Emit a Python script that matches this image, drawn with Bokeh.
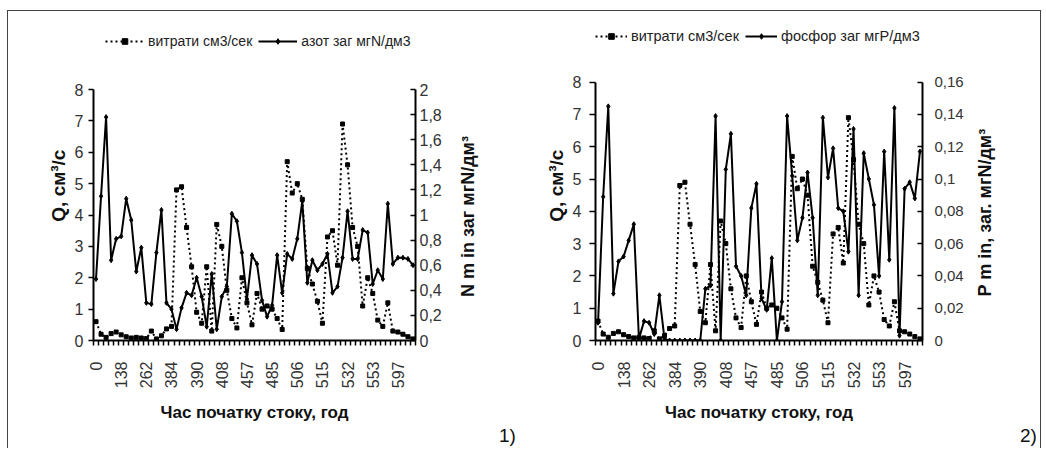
import math
from bokeh.plotting import figure
from bokeh.models import (Range1d, LinearAxis, FixedTicker, Label, Row,
                          CustomJSTickFormatter, Legend)
from bokeh.embed import file_html
from bokeh.resources import INLINE

# ---- data ----
tick_labels = ["0", "138", "262", "384", "390", "408", "457", "485",
               "506", "515", "532", "553", "597"]

flow_q = [0.6, 0.2, 0.1, 0.22, 0.27, 0.18, 0.12, 0.08, 0.1, 0.08,
          0.06, 0.3, 0.05, 0.15, 0.37, 0.45, 4.8, 4.9, 3.6, 2.35,
          0.9, 0.55, 2.35, 0.3, 3.7, 3.0, 1.6, 0.7, 0.4, 2.0,
          1.2, 0.5, 1.5, 1.0, 1.1, 1.0, 0.7, 0.35, 5.7, 4.7,
          5.0, 4.5, 2.3, 1.8, 1.25, 0.55, 3.3, 3.5, 2.4, 6.9,
          5.6, 3.6, 3.0, 1.1, 2.0, 1.5, 0.65, 0.45, 1.2, 0.3,
          0.27, 0.2, 0.12, 0.05]

nitrogen = [0.49, 1.15, 1.78, 0.64, 0.81, 0.83, 1.13, 0.96, 0.55, 0.74,
            0.30, 0.29, 0.70, 1.04, 0.30, 0.25, 0.09, 0.26, 0.38, 0.36,
            0.50, 0.35, 0.11, 0.53, 0.09, 0.35, 0.43, 1.01, 0.95, 0.70,
            0.33, 0.68, 0.61, 0.32, 0.19, 0.28, 0.68, 0.38, 0.69, 0.65,
            0.81, 1.11, 0.46, 0.64, 0.56, 0.61, 0.69, 0.38, 0.43, 0.66,
            1.03, 0.65, 0.65, 0.88, 0.86, 0.45, 0.56, 0.49, 1.09, 0.61,
            0.66, 0.66, 0.65, 0.60]

phosphorus = [0.011, 0.089, 0.145, 0.029, 0.049, 0.052, 0.062, 0.072, 0.001, 0.012,
              0.011, 0.004, 0.028, 0.001, 0.0, 0.0, 0.0, 0.0, 0.0, 0.0,
              0.0, 0.032, 0.034, 0.139, 0.0, 0.106, 0.128, 0.046, 0.040, 0.028,
              0.082, 0.097, 0.026, 0.019, 0.051, 0.0, 0.024, 0.139, 0.102, 0.062,
              0.076, 0.104, 0.076, 0.028, 0.138, 0.101, 0.119, 0.082, 0.080, 0.055,
              0.131, 0.028, 0.116, 0.100, 0.084, 0.040, 0.117, 0.050, 0.144, 0.003,
              0.094, 0.098, 0.088, 0.117]

x = list(range(len(flow_q)))

REG = "Liberation Sans"
TXT = "#333333"
DARK = "#111111"
BORDER = "1px solid #444444"
H = 438


def chart(width, left, right, top, bottom, plot_h, labels, right_vals, right_max,
          right_step, right_digits, legend_fs, legend_xy, glyph_w,
          ytick_std, ytick_out, ltitle_std, rtick_std, rfs, styles):
    frame_h = H - top - bottom
    stretch = frame_h / plot_h          # frame also holds the legend strip on top
    p = figure(width=width, height=H, x_range=Range1d(-0.5, len(x) - 0.5),
               y_range=Range1d(0, 8 * stretch), output_backend="svg",
               toolbar_location=None,
               min_border_left=left, min_border_right=right,
               min_border_top=top, min_border_bottom=bottom, styles=styles)
    p.extra_y_ranges = {"r": Range1d(0, right_max * stretch)}
    p.outline_line_color = None
    p.xgrid.visible = False
    p.ygrid.visible = False

    q_line = p.line(x, flow_q, line_dash="2 3", line_width=2, color="black")
    q_pts = p.scatter(x, flow_q, marker="square", size=4, color="black")
    r_line = p.line(x, right_vals, y_range_name="r", line_width=2, color="black")
    r_pts = p.scatter(x, right_vals, y_range_name="r", marker="diamond", size=5,
                      color="black")

    # bottom axis
    xa = p.xaxis[0]
    xa.ticker = FixedTicker(ticks=[5 * k for k in range(len(tick_labels))],
                            minor_ticks=[k - 0.5 for k in range(len(x) + 1)])
    xa.major_label_overrides = {5 * k: t for k, t in enumerate(tick_labels)}
    xa.major_label_orientation = math.pi / 2
    xa.major_tick_out = 0
    xa.major_tick_in = 0
    xa.minor_tick_out = 5
    xa.minor_tick_in = 0
    xa.minor_tick_line_width = 1.5
    xa.axis_line_width = 2
    xa.major_label_standoff = 16
    xa.major_label_text_font = REG
    xa.major_label_text_font_size = "16px"
    xa.major_label_text_color = TXT
    xa.axis_label = "Час початку стоку, год"
    xa.axis_label_text_font = REG
    xa.axis_label_text_font_style = "bold"
    xa.axis_label_text_font_size = "17px"
    xa.axis_label_text_color = DARK
    xa.axis_label_standoff = 12

    # left axis
    ya = p.yaxis[0]
    ya.ticker = FixedTicker(ticks=list(range(9)))
    ya.bounds = (0, 8)
    ya.major_tick_out = ytick_out
    ya.major_tick_in = 0
    ya.minor_tick_out = 0
    ya.minor_tick_in = 0
    ya.major_tick_line_width = 1.5
    ya.axis_line_width = 2
    ya.major_label_standoff = ytick_std
    ya.major_label_text_font = REG
    ya.major_label_text_font_size = "16px"
    ya.major_label_text_color = TXT
    ya.axis_label = "Q,  см³/с"
    ya.axis_label_text_font = REG
    ya.axis_label_text_font_style = "bold"
    ya.axis_label_text_font_size = "19px"
    ya.axis_label_text_color = DARK
    ya.axis_label_standoff = ltitle_std

    # right axis
    n = int(round(right_max / right_step))
    ra = LinearAxis(y_range_name="r", bounds=(0, right_max),
                    ticker=FixedTicker(ticks=[round(k * right_step, 4) for k in range(n + 1)]),
                    formatter=CustomJSTickFormatter(
                        code=f"var m = Math.pow(10, {right_digits}); return (Math.round(tick*m)/m).toString().replace('.', ',');"))
    ra.major_tick_out = 0
    ra.major_tick_in = 5
    ra.minor_tick_out = 0
    ra.minor_tick_in = 0
    ra.major_tick_line_width = 1.5
    ra.axis_line_width = 2
    ra.major_label_standoff = rtick_std
    ra.major_label_text_font = REG
    ra.major_label_text_font_size = f"{rfs}px"
    ra.major_label_text_color = TXT
    p.add_layout(ra, "right")

    # legend in the strip above the data
    lg = Legend(items=[(labels[0], [q_line, q_pts]), (labels[1], [r_line, r_pts])],
                location=legend_xy, orientation="horizontal",
                background_fill_alpha=0, border_line_color=None, padding=0, margin=0,
                spacing=6, glyph_width=glyph_w, glyph_height=14, label_height=14,
                label_standoff=4, label_text_font=REG,
                label_text_font_size=f"{legend_fs}px", label_text_color="#222222")
    p.add_layout(lg)
    return p


def blank(width, left, styles):
    s = figure(width=width, height=H, x_range=Range1d(0, 1), y_range=Range1d(0, 1),
               x_axis_type=None, y_axis_type=None, output_backend="svg",
               toolbar_location=None, min_border=0, min_border_left=left,
               min_border_bottom=109, min_border_top=14, styles=styles)
    s.outline_line_color = None
    s.xgrid.visible = False
    s.ygrid.visible = False
    return s


def title_strip(width, title, title_x, title_y, styles):
    # right-axis title, read bottom to top
    s = blank(width, 0, styles)
    s.add_layout(Label(x=title_x, y=title_y, x_units="screen", y_units="screen",
                       text=title, angle=math.pi / 2, text_align="center",
                       text_baseline="middle", text_font=REG, text_font_style="bold",
                       text_font_size="18px", text_color=DARK))
    return s


def tag_strip(width, left, tag, styles):
    # panel tag "1)" / "2)" below the chart level
    s = blank(width, left, styles)
    tag_axis = LinearAxis(ticker=FixedTicker(ticks=[]),
                          axis_line_color=None, major_tick_line_color=None,
                          minor_tick_line_color=None, major_label_standoff=0,
                          axis_label=tag, axis_label_standoff=84,
                          axis_label_text_font=REG, axis_label_text_font_style="normal",
                          axis_label_text_font_size="19px", axis_label_text_color=DARK)
    s.add_layout(tag_axis, "below")
    return s


TOP = {"border-top": BORDER, "margin-top": "10px"}

p1 = chart(437, 85, 30, 14, 109, 251,
           ["витрати см3/сек", "азот заг мгN/дм3"], nitrogen, 2, 0.2, 1,
           14, (12, 291), 39, 5, 5, 3, 4, 16,
           {"border-top": BORDER, "border-left": BORDER,
            "margin-left": "7px", "margin-top": "10px"})
t1 = title_strip(45, "N m in заг мгN/дм³", 23, 124, TOP)
g1 = tag_strip(30, 6, "1)", TOP)

p2 = chart(448, 76, 45, 14, 107, 260,
           ["витрати см3/сек", "фосфор заг мгP/дм3"], phosphorus, 0.16, 0.02, 2,
           14.5, (0, 296), 32, 8, 6, 3, 12, 15, TOP)
t2 = title_strip(37, "P m in, заг. мгN/дм³", 17, 128, TOP)
g2 = tag_strip(37, 11, "2)", {"border-top": BORDER, "border-right": BORDER,
                              "margin-top": "10px"})

layout = Row(children=[p1, t1, g1, p2, t2, g2])

open("out.html", "w").write(file_html(layout, INLINE))
